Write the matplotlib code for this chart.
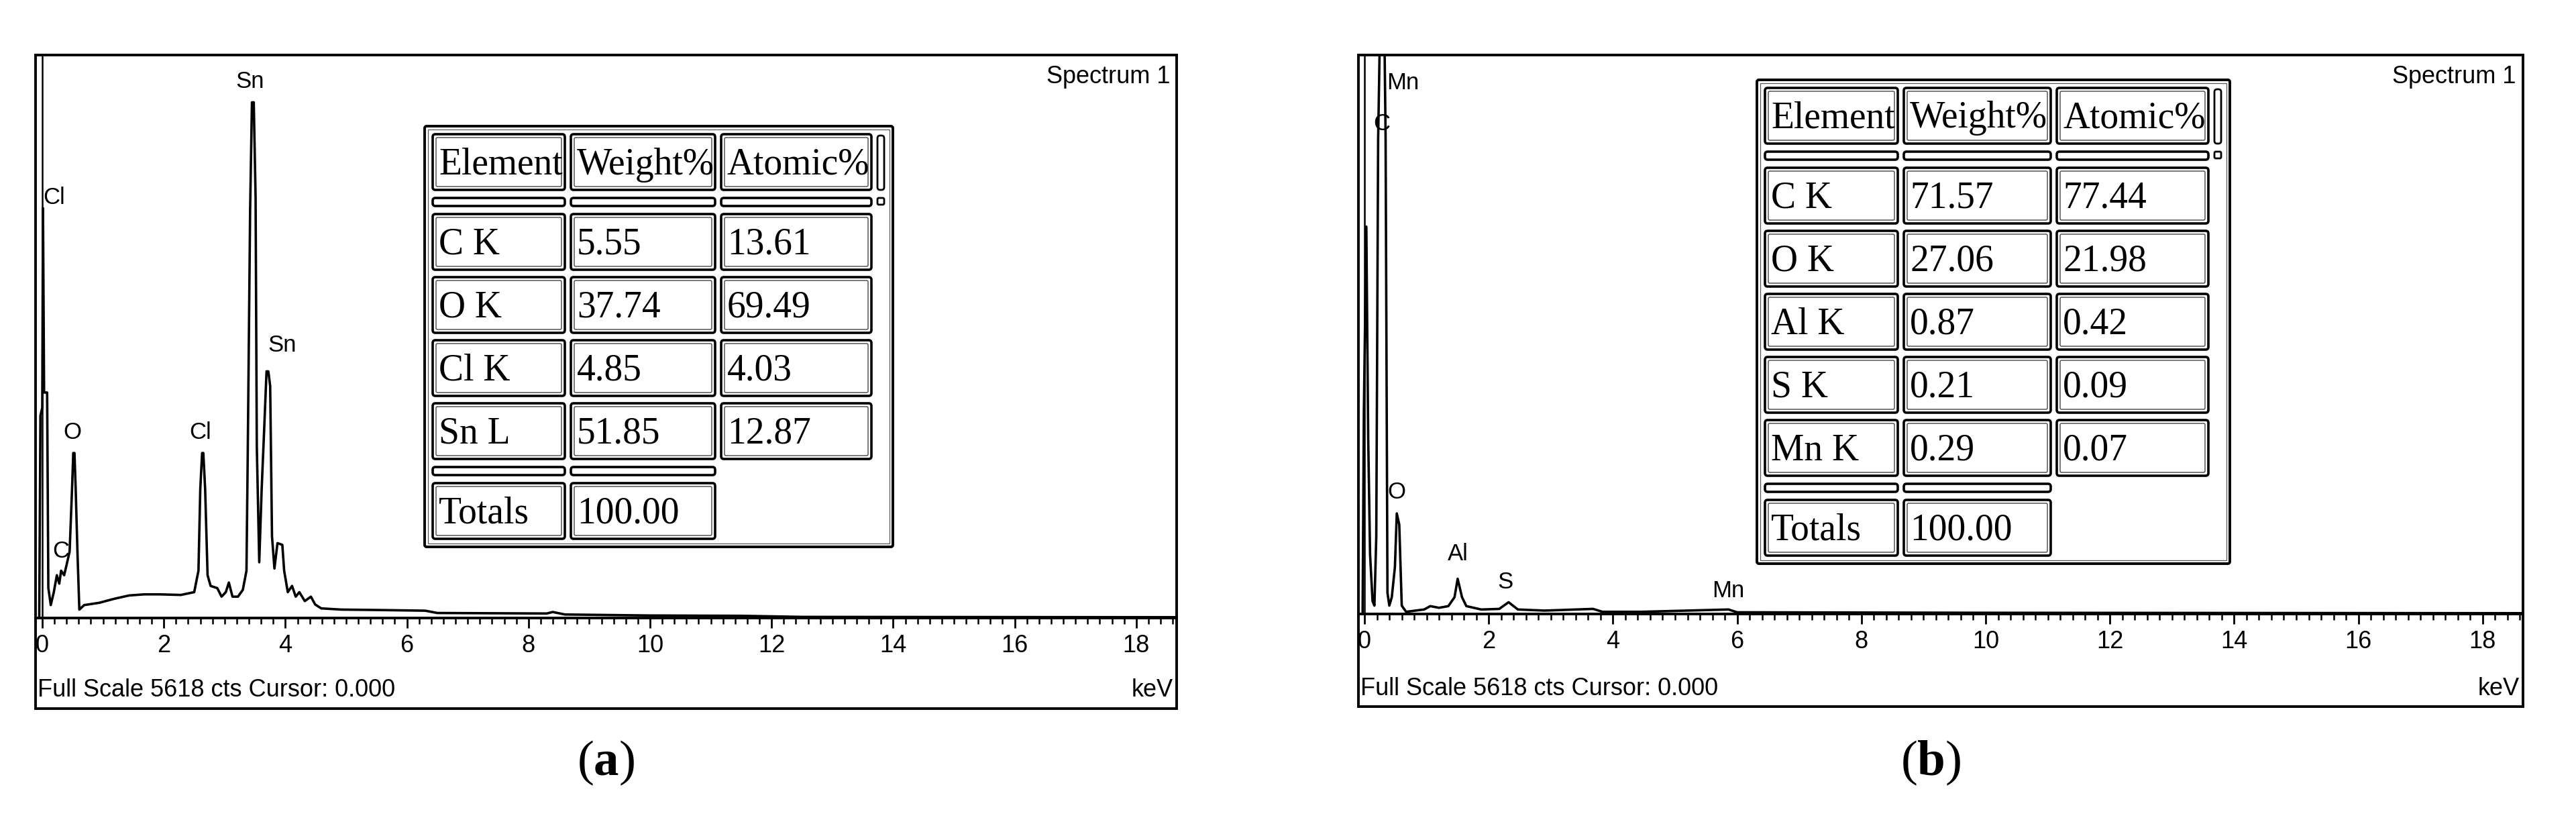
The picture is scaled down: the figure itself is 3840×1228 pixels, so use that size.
import matplotlib
matplotlib.use('Agg')
import matplotlib.pyplot as plt
from matplotlib.patches import Rectangle, FancyBboxPatch
from matplotlib.ticker import MultipleLocator

plt.rcParams['font.family'] = ['Liberation Sans', 'DejaVu Sans']
plt.rcParams['mathtext.fontset'] = 'custom'
plt.rcParams['mathtext.rm'] = 'Liberation Serif'
plt.rcParams['mathtext.bf'] = 'Liberation Serif:bold'

W, H = 3840, 1228
FULL_SCALE = 5618

# ---- panel (a): spectrum (keV, counts) ----
energy_a = [-0.05, -0.03, 0.0, 0.012, 0.03, 0.04, 0.08, 0.10, 0.14, 0.19, 0.24, 0.28,
            0.31, 0.36, 0.41, 0.45, 0.49, 0.51, 0.53, 0.55, 0.58, 0.61, 0.69, 0.94,
            1.18, 1.43, 1.68, 1.93, 2.28, 2.50, 2.57, 2.60, 2.63, 2.65, 2.68, 2.72,
            2.77, 2.88, 2.95, 3.02, 3.07, 3.13, 3.22, 3.30, 3.36, 3.38, 3.42, 3.45,
            3.48, 3.51, 3.53, 3.57, 3.61, 3.65, 3.69, 3.72, 3.75, 3.78, 3.82, 3.87,
            3.95, 3.98, 4.04, 4.11, 4.17, 4.23, 4.32, 4.42, 4.49, 4.59, 4.92, 5.5,
            6.3, 6.5, 8.3, 8.4, 8.6, 10.0, 11.5, 12.5, 18.7]
counts_a = [0, 2020, 2100, 4090, 2250, 2250, 2250, 300, 129, 258, 427, 343,
            472, 427, 556, 663, 1287, 1646, 1646, 1287, 640, 84, 129, 152,
            191, 225, 236, 236, 230, 258, 472, 1287, 1646, 1646, 1287, 427,
            320, 298, 213, 258, 354, 213, 213, 281, 472, 1584, 4067, 5146,
            5146, 4197, 1713, 556, 1287, 1865, 2461, 2461, 2315, 815, 494, 747,
            730, 472, 258, 320, 213, 258, 169, 213, 135, 96, 84, 80,
            73, 50, 45, 60, 35, 25, 22, 11, 8]
peak_names_a = ["Cl", "C", "O", "Cl", "Sn", "Sn"]
peak_kev_a = [0.19, 0.31, 0.49, 2.60, 3.42, 3.95]
peak_cts_a = [4197, 663, 1854, 1854, 5354, 2719]

elements_a = ["C K", "O K", "Cl K", "Sn L"]
weight_a = ["5.55", "37.74", "4.85", "51.85"]
atomic_a = ["13.61", "69.49", "4.03", "12.87"]
total_a = "100.00"

# ---- panel (b) ----
energy_b = [-0.03, -0.01, 0.03, 0.06, 0.09, 0.13, 0.16, 0.19, 0.22, 0.25, 0.32, 0.34,
            0.37, 0.40, 0.44, 0.49, 0.52, 0.56, 0.60, 0.67, 0.96, 1.06, 1.20, 1.35,
            1.45, 1.50, 1.57, 1.64, 1.88, 2.17, 2.32, 2.47, 2.90, 3.68, 3.83, 4.46,
            5.86, 6.0, 10.0, 18.7]
counts_b = [0, 2022, 3893, 1764, 601, 129, 84, 775, 4775, 5900, 5900, 4798,
            213, 84, 169, 472, 1011, 899, 84, 22, 45, 79, 62, 79,
            169, 354, 169, 79, 45, 51, 118, 45, 34, 51, 22, 22,
            45, 17, 12, 8]
peak_names_b = ["Mn", "C", "O", "Al", "S", "Mn"]
peak_kev_b = [0.62, 0.28, 0.52, 1.50, 2.27, 5.86]
peak_cts_b = [5337, 4927, 1225, 601, 320, 236]

elements_b = ["C K", "O K", "Al K", "S K", "Mn K"]
weight_b = ["71.57", "27.06", "0.87", "0.21", "0.29"]
atomic_b = ["77.44", "21.98", "0.42", "0.09", "0.07"]
total_b = "100.00"

header = ["Element", "Weight%", "Atomic%"]

fig = plt.figure(figsize=(W / 100, H / 100), dpi=100)
fig.patch.set_facecolor('white')


def fig_rect(l, t, r, b):
    return [l / W, 1 - b / H, (r - l) / W, (b - t) / H]


def spectrum(box, zero_x, kev_px, base_y, energy, counts, names, kev, cts):
    l, t, r, b = box
    ax = fig.add_axes(fig_rect(l, t, r, base_y))
    ax.set_facecolor('none')
    ax.plot(energy, counts, color='black', lw=2.6)
    ax.axvline(0, color='black', lw=1.8)
    for name, x, y in zip(names, kev, cts):
        ax.text(x, y, name, ha='center', va='center', fontsize=25)
    ax.set_xlim((l - zero_x) / kev_px, (r - zero_x) / kev_px)
    ax.set_ylim(0, FULL_SCALE)
    for s in ['left', 'right', 'top']:
        ax.spines[s].set_visible(False)
    ax.spines['bottom'].set_linewidth(2.8)
    ax.set_yticks([])
    ax.xaxis.set_major_locator(MultipleLocator(2))
    ax.xaxis.set_minor_locator(MultipleLocator(0.2))
    ax.tick_params(axis='x', which='major', direction='out', length=11, width=2.0,
                   pad=6, labelsize=26)
    ax.tick_params(axis='x', which='minor', direction='out', length=6.5, width=1.8)
    return ax


ax_a = spectrum((53, 82, 1754, 1056), 63, 90.6, 921, energy_a, counts_a,
                peak_names_a, peak_kev_a, peak_cts_a)
ax_b = spectrum((2025, 82, 3761, 1053), 2034, 92.6, 915, energy_b, counts_b,
                peak_names_b, peak_kev_b, peak_cts_b)

# overlay in pixel coordinates for frames, tables and captions
ov = fig.add_axes([0, 0, 1, 1], zorder=5)
ov.set_xlim(0, W)
ov.set_ylim(H, 0)
ov.axis('off')
ov.patch.set_alpha(0)


def cell(x, y, w, h, text=None):
    ov.add_patch(FancyBboxPatch((x, y), w, h, boxstyle='round,pad=0,rounding_size=4',
                                fc='white', ec='black', lw=2.6))
    if h > 30:
        ov.add_patch(FancyBboxPatch((x + 5, y + 5), w - 10, h - 10,
                                    boxstyle='round,pad=0,rounding_size=2',
                                    fc='none', ec='#444444', lw=1.0))
    if text is not None:
        ov.text(x + 9, y + h / 2 + 18, text, ha='left', va='baseline', fontsize=40,
                family='Liberation Serif')


def draw_table(x0, y0, col_w, elements, weight, atomic, total):
    pad, gap, row_h, pitch, strip_h, sgap = 12, 9, 83, 94, 12, 12
    xs = []
    x = x0 + pad
    for w in col_w:
        xs.append(x)
        x += w + gap
    scroll_x = x
    frame_r = scroll_x + 10 + 13
    y = y0 + pad
    head_y = y
    y += row_h + sgap
    strip1 = y
    y += strip_h + sgap
    rows = [y + i * pitch for i in range(len(elements))]
    strip2 = rows[-1] + row_h + sgap
    tot_y = strip2 + strip_h + sgap
    frame_b = tot_y + row_h + pad

    ov.add_patch(FancyBboxPatch((x0, y0), frame_r - x0, frame_b - y0,
                                boxstyle='round,pad=0,rounding_size=3',
                                fc='white', ec='black', lw=2.8))
    ov.add_patch(Rectangle((x0 + 5, y0 + 5), frame_r - x0 - 10, frame_b - y0 - 10,
                           fc='none', ec='#555555', lw=0.9))
    for i in range(3):
        cell(xs[i], head_y, col_w[i], row_h, header[i])
        cell(xs[i], strip1, col_w[i], strip_h)
    for r, vals in enumerate(zip(elements, weight, atomic)):
        for i in range(3):
            cell(xs[i], rows[r], col_w[i], row_h, vals[i])
    for i in range(2):
        cell(xs[i], strip2, col_w[i], strip_h)
    cell(xs[0], tot_y, col_w[0], row_h, "Totals")
    cell(xs[1], tot_y, col_w[1], row_h, total)
    # scroll bar
    ov.add_patch(FancyBboxPatch((scroll_x, head_y + 2), 10, row_h - 2,
                                boxstyle='round,pad=0,rounding_size=4',
                                fc='white', ec='black', lw=2.0))
    ov.add_patch(FancyBboxPatch((scroll_x, strip1), 10, 10,
                                boxstyle='round,pad=0,rounding_size=2',
                                fc='white', ec='black', lw=2.0))


def frame(l, t, r, b, label, cap_x):
    ov.add_patch(Rectangle((l, t), r - l, b - t, fill=False, ec='black', lw=2.8))
    ov.text(r - 10, 115, "Spectrum 1", ha='right', va='center', fontsize=26)
    ov.text(l + 3, b - 27, "Full Scale 5618 cts Cursor: 0.000", ha='left',
            va='center', fontsize=26)
    ov.text(r - 5, b - 27, "keV", ha='right', va='center', fontsize=26)
    ov.text(cap_x, 1137, "(" + r"$\mathbf{" + label + "}$" + ")", ha='center',
            va='center', fontsize=54, family='Liberation Serif')


frame(53, 82, 1754, 1056, "a", 903)
frame(2025, 82, 3761, 1053, "b", 2878)

draw_table(633, 188, [197, 215, 224], elements_a, weight_a, atomic_a, total_a)
draw_table(2619, 119, [198, 219, 226], elements_b, weight_b, atomic_b, total_b)

fig.savefig('out.png', dpi=100, facecolor='white')
